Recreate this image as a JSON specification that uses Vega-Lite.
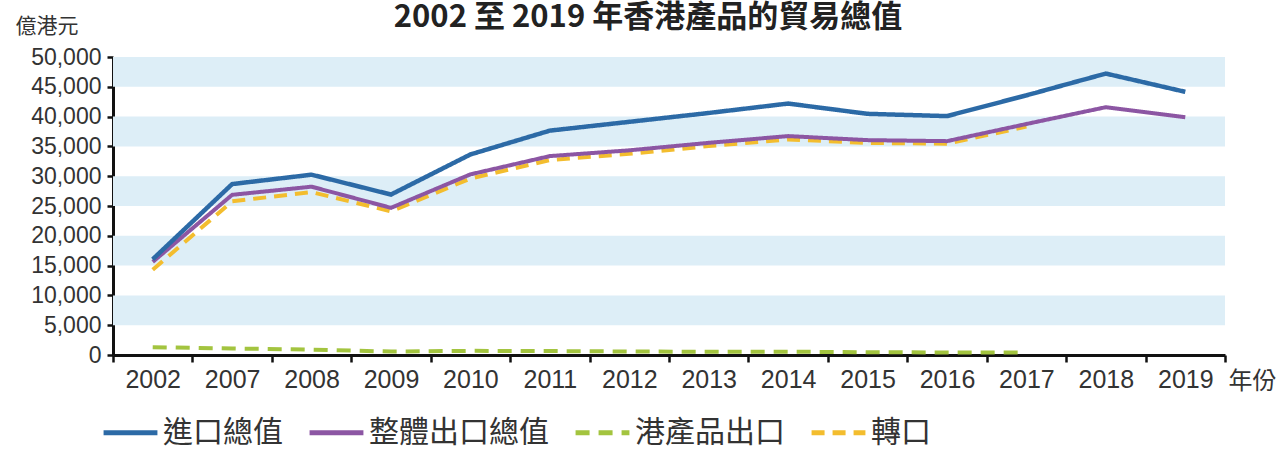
{
  "$schema": "https://vega.github.io/schema/vega-lite/v6.json",
  "autosize": {"type": "none"},
  "width": 1112,
  "height": 298,
  "padding": {"top": 57, "left": 113, "right": 57, "bottom": 95},
  "background": "white",
  "title": {
    "text": "2002 至 2019 年香港產品的貿易總值",
    "font": "Noto Sans CJK TC",
    "fontSize": 31,
    "fontWeight": "bold",
    "color": "#222222",
    "anchor": "middle",
    "frame": "group",
    "dx": -21,
    "dy": 23
  },
  "datasets": {
    "bands": [
      {"y0": 5000, "y1": 10000},
      {"y0": 15000, "y1": 20000},
      {"y0": 25000, "y1": 30000},
      {"y0": 35000, "y1": 40000},
      {"y0": 45000, "y1": 50000}
    ],
    "trade": [
      {"year": "2002", "series": "進口總值", "value": 16059},
      {"year": "2007", "series": "進口總值", "value": 28680},
      {"year": "2008", "series": "進口總值", "value": 30253},
      {"year": "2009", "series": "進口總值", "value": 26924},
      {"year": "2010", "series": "進口總值", "value": 33648},
      {"year": "2011", "series": "進口總值", "value": 37646},
      {"year": "2012", "series": "進口總值", "value": 39122},
      {"year": "2013", "series": "進口總值", "value": 40607},
      {"year": "2014", "series": "進口總值", "value": 42190},
      {"year": "2015", "series": "進口總值", "value": 40464},
      {"year": "2016", "series": "進口總值", "value": 40084},
      {"year": "2017", "series": "進口總值", "value": 43570},
      {"year": "2018", "series": "進口總值", "value": 47221},
      {"year": "2019", "series": "進口總值", "value": 44154},
      {"year": "2002", "series": "整體出口總值", "value": 15621},
      {"year": "2007", "series": "整體出口總值", "value": 26875},
      {"year": "2008", "series": "整體出口總值", "value": 28242},
      {"year": "2009", "series": "整體出口總值", "value": 24691},
      {"year": "2010", "series": "整體出口總值", "value": 30310},
      {"year": "2011", "series": "整體出口總值", "value": 33373},
      {"year": "2012", "series": "整體出口總值", "value": 34343},
      {"year": "2013", "series": "整體出口總值", "value": 35597},
      {"year": "2014", "series": "整體出口總值", "value": 36728},
      {"year": "2015", "series": "整體出口總值", "value": 36053},
      {"year": "2016", "series": "整體出口總值", "value": 35882},
      {"year": "2017", "series": "整體出口總值", "value": 38759},
      {"year": "2018", "series": "整體出口總值", "value": 41581},
      {"year": "2019", "series": "整體出口總值", "value": 39888},
      {"year": "2002", "series": "港產品出口", "value": 1309},
      {"year": "2007", "series": "港產品出口", "value": 1091},
      {"year": "2008", "series": "港產品出口", "value": 908},
      {"year": "2009", "series": "港產品出口", "value": 577},
      {"year": "2010", "series": "港產品出口", "value": 697},
      {"year": "2011", "series": "港產品出口", "value": 657},
      {"year": "2012", "series": "港產品出口", "value": 588},
      {"year": "2013", "series": "港產品出口", "value": 544},
      {"year": "2014", "series": "港產品出口", "value": 553},
      {"year": "2015", "series": "港產品出口", "value": 469},
      {"year": "2016", "series": "港產品出口", "value": 429},
      {"year": "2017", "series": "港產品出口", "value": 439},
      {"year": "2002", "series": "轉口", "value": 14312},
      {"year": "2007", "series": "轉口", "value": 25784},
      {"year": "2008", "series": "轉口", "value": 27334},
      {"year": "2009", "series": "轉口", "value": 24113},
      {"year": "2010", "series": "轉口", "value": 29613},
      {"year": "2011", "series": "轉口", "value": 32716},
      {"year": "2012", "series": "轉口", "value": 33755},
      {"year": "2013", "series": "轉口", "value": 35053},
      {"year": "2014", "series": "轉口", "value": 36175},
      {"year": "2015", "series": "轉口", "value": 35584},
      {"year": "2016", "series": "轉口", "value": 35453},
      {"year": "2017", "series": "轉口", "value": 38320}
    ]
  },
  "config": {
    "view": {"stroke": null},
    "font": "Liberation Sans"
  },
  "encoding": {
    "y": {
      "type": "quantitative",
      "scale": {"domain": [0, 50000], "nice": false, "zero": true},
      "axis": {
        "title": "億港元",
        "titleAngle": 0,
        "titleAlign": "left",
        "titleBaseline": "middle",
        "titleX": -98,
        "titleY": -31,
        "titleFont": "Noto Sans CJK TC",
        "titleFontSize": 21,
        "titleFontWeight": "normal",
        "titleColor": "#333333",
        "values": [0, 5000, 10000, 15000, 20000, 25000, 30000, 35000, 40000, 45000, 50000],
        "format": ",.0f",
        "grid": false,
        "domainColor": "#111111",
        "domainWidth": 3,
        "tickColor": "#111111",
        "tickWidth": 2.5,
        "tickSize": 6,
        "labelFont": "Liberation Sans",
        "labelFontSize": 23,
        "labelColor": "#333333",
        "labelPadding": 6
      }
    }
  },
  "layer": [
    {
      "data": {"name": "bands"},
      "mark": {"type": "rect", "color": "#ddeef7"},
      "encoding": {
        "y": {"field": "y0", "type": "quantitative"},
        "y2": {"field": "y1"}
      }
    },
    {
      "data": {"name": "trade"},
      "encoding": {
        "x": {
          "field": "year",
          "type": "ordinal",
          "scale": {"type": "band", "paddingInner": 0, "paddingOuter": 0},
          "axis": {
            "title": "年份",
            "titleAngle": 0,
            "titleAlign": "left",
            "titleBaseline": "middle",
            "titleX": 1115,
            "titleY": 26,
            "titleFont": "Noto Sans CJK TC",
            "titleFontSize": 24,
            "titleFontWeight": "normal",
            "titleColor": "#333333",
            "tickBand": "extent",
            "labelAngle": 0,
            "labelFont": "Liberation Sans",
            "labelFontSize": 25,
            "labelColor": "#333333",
            "labelPadding": 5,
            "domainColor": "#111111",
            "domainWidth": 3,
            "tickColor": "#111111",
            "tickWidth": 2.5,
            "tickSize": 7,
            "grid": false
          }
        },
        "y": {"field": "value", "type": "quantitative"},
        "color": {
          "field": "series",
          "type": "nominal",
          "scale": {
            "domain": ["進口總值", "整體出口總值", "港產品出口", "轉口"],
            "range": ["#2c6aa6", "#8c56a3", "#a3c43f", "#f3bd2e"]
          },
          "legend": {
            "title": null,
            "orient": "none",
            "direction": "horizontal",
            "legendX": -12,
            "legendY": 346,
            "symbolType": "stroke",
            "symbolSize": 2900,
            "symbolStrokeWidth": 5,
            "labelFont": "Noto Sans CJK TC",
            "labelFontSize": 30,
            "labelColor": "#333333",
            "labelOffset": 3,
            "columnPadding": 16,
            "labelLimit": 400,
            "encode": {
              "symbols": {
                "update": {
                  "strokeDash": [
                    {"test": "datum.value === '港產品出口' || datum.value === '轉口'", "value": [8, 6]},
                    {"value": [1, 0]}
                  ]
                }
              }
            }
          }
        },
        "strokeDash": {
          "field": "series",
          "type": "nominal",
          "scale": {
            "domain": ["進口總值", "整體出口總值", "港產品出口", "轉口"],
            "range": [[1, 0], [1, 0], [14, 9], [13, 8]]
          },
          "legend": null
        }
      },
      "layer": [
        {
          "transform": [{"filter": "datum.series === '港產品出口'"}],
          "mark": {"type": "line", "strokeWidth": 4}
        },
        {
          "transform": [{"filter": "datum.series === '轉口'"}],
          "mark": {"type": "line", "strokeWidth": 4}
        },
        {
          "transform": [{"filter": "datum.series === '整體出口總值'"}],
          "mark": {"type": "line", "strokeWidth": 4}
        },
        {
          "transform": [{"filter": "datum.series === '進口總值'"}],
          "mark": {"type": "line", "strokeWidth": 4.5}
        }
      ]
    }
  ]
}
